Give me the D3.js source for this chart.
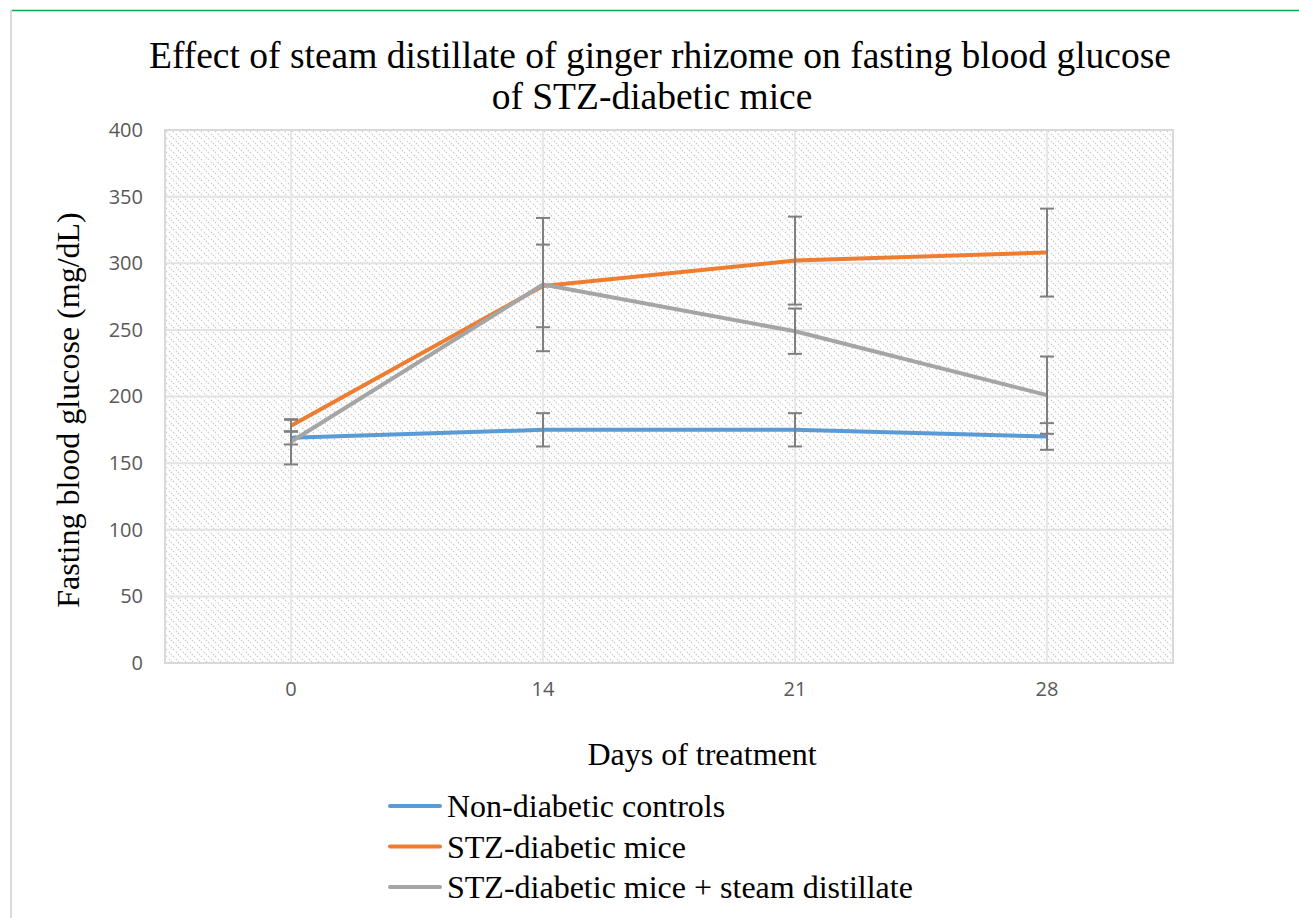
<!DOCTYPE html>
<html>
<head>
<meta charset="utf-8">
<script src="https://cdn.jsdelivr.net/npm/d3@7"></script>
<style>
  body { margin: 0; background: #fff; }
  svg { display: block; }
</style>
</head>
<body>
<svg id="chart" width="1299" height="918"></svg>
<script>
// days on the x axis
const days = ["0", "14", "21", "28"];
const seriesNames = ["Non-diabetic controls", "STZ-diabetic mice", "STZ-diabetic mice + steam distillate"];
const seriesColors = ["#5b9bd5", "#ed7d31", "#a5a5a5"];

// mean fasting glucose (mg/dL) and error bar half-widths
const nonDiabetic = [169, 175, 175, 170];
const nonDiabeticErr = [5, 12.5, 12.5, 10];
const stzDiabetic = [178, 283, 302, 308];
const stzDiabeticErr = [4.5, 31, 33, 33];
const stzSteam = [166, 284, 249, 201];
const stzSteamErr = [17, 50, 17, 29];

const yTicks = [0, 50, 100, 150, 200, 250, 300, 350, 400];

const allSeries = [
  { name: seriesNames[0], color: seriesColors[0], values: nonDiabetic, err: nonDiabeticErr },
  { name: seriesNames[1], color: seriesColors[1], values: stzDiabetic, err: stzDiabeticErr },
  { name: seriesNames[2], color: seriesColors[2], values: stzSteam, err: stzSteamErr }
];

const svg = d3.select("#chart");
const plot = { left: 165, right: 1173, top: 130, bottom: 663 };
const serif = "'Liberation Serif', 'Times New Roman', serif";

// frame bits: green rule on top, grey border on the left
svg.append("line")
  .attr("x1", 11).attr("x2", 1299).attr("y1", 10.5).attr("y2", 10.5)
  .attr("stroke", "#00b050").attr("stroke-width", 1.5);
svg.append("line")
  .attr("x1", 11).attr("x2", 11).attr("y1", 10).attr("y2", 918)
  .attr("stroke", "#d9d9d9").attr("stroke-width", 2);

// hatch fill of the plot area
const defs = svg.append("defs");
const pat = defs.append("pattern")
  .attr("id", "hatch")
  .attr("patternUnits", "userSpaceOnUse")
  .attr("width", 7).attr("height", 7);
pat.append("path")
  .attr("d", "M-1,-1 L8,8 M-1,6 L1,8 M6,-1 L8,1")
  .attr("stroke", "#cccccc")
  .attr("stroke-width", 1.3)
  .attr("stroke-dasharray", "1.4,1.4");

const x = d3.scaleBand()
  .domain(days)
  .range([plot.left, plot.right]);

const y = d3.scaleLinear()
  .domain([0, 400])
  .range([plot.bottom, plot.top]);

const cx = d => x(d) + x.bandwidth() / 2;

svg.append("rect")
  .attr("x", plot.left).attr("y", plot.top)
  .attr("width", plot.right - plot.left).attr("height", plot.bottom - plot.top)
  .attr("fill", "url(#hatch)");

// gridlines
svg.append("g")
  .selectAll("line")
  .data(yTicks)
  .enter()
  .append("line")
  .attr("x1", plot.left).attr("x2", plot.right)
  .attr("y1", d => y(d)).attr("y2", d => y(d))
  .attr("stroke", "#e3e3e3").attr("stroke-width", 2);

svg.append("g")
  .selectAll("line")
  .data(days)
  .enter()
  .append("line")
  .attr("x1", d => cx(d)).attr("x2", d => cx(d))
  .attr("y1", plot.top).attr("y2", plot.bottom)
  .attr("stroke", "#e8e8e8").attr("stroke-width", 2);

// plot border
svg.append("rect")
  .attr("x", plot.left).attr("y", plot.top)
  .attr("width", plot.right - plot.left).attr("height", plot.bottom - plot.top)
  .attr("fill", "none").attr("stroke", "#d9d9d9").attr("stroke-width", 2);

// axes (labels only)
const yAxis = svg.append("g")
  .attr("transform", "translate(" + (plot.left - 22) + ",0)")
  .call(d3.axisLeft(y).tickValues(yTicks).tickSize(0).tickPadding(0));
yAxis.select(".domain").remove();
yAxis.selectAll("text")
  .attr("font-family", "'Open Sans', sans-serif")
  .attr("font-size", 20)
  .attr("fill", "#595959");

const xAxis = svg.append("g")
  .attr("transform", "translate(0," + plot.bottom + ")")
  .call(d3.axisBottom(x).tickSize(0).tickPadding(19));
xAxis.select(".domain").remove();
xAxis.selectAll("text")
  .attr("font-family", "'Open Sans', sans-serif")
  .attr("font-size", 20)
  .attr("fill", "#595959");

// series
const line = d3.line()
  .x((v, i) => cx(days[i]))
  .y(v => y(v));

allSeries.forEach(s => {
  svg.append("path")
    .datum(s.values)
    .attr("fill", "none")
    .attr("stroke", s.color)
    .attr("stroke-width", 4)
    .attr("stroke-linejoin", "round")
    .attr("d", line);

  const eb = svg.append("g").attr("class", "errbars");
  s.values.forEach((v, i) => {
    const px = cx(days[i]);
    const top = y(v + s.err[i]);
    const bot = y(v - s.err[i]);
    eb.append("line")
      .attr("x1", px).attr("x2", px).attr("y1", top).attr("y2", bot)
      .attr("stroke", "#7f7f7f").attr("stroke-width", 2);
    [top, bot].forEach(yy => {
      eb.append("line")
        .attr("x1", px - 7).attr("x2", px + 7).attr("y1", yy).attr("y2", yy)
        .attr("stroke", "#7f7f7f").attr("stroke-width", 2);
    });
  });
});

// titles
const title = svg.append("text")
  .attr("text-anchor", "middle")
  .attr("font-family", serif)
  .attr("font-size", 37.5)
  .attr("fill", "#000");
title.append("tspan").attr("x", 660).attr("y", 68)
  .text("Effect of steam distillate of ginger rhizome on fasting blood glucose");
title.append("tspan").attr("x", 652).attr("y", 109)
  .text("of STZ-diabetic mice");

svg.append("text")
  .attr("transform", "translate(79,410) rotate(-90)")
  .attr("text-anchor", "middle")
  .attr("font-family", serif)
  .attr("font-size", 32)
  .text("Fasting blood glucose (mg/dL)");

svg.append("text")
  .attr("x", 702).attr("y", 765)
  .attr("text-anchor", "middle")
  .attr("font-family", serif)
  .attr("font-size", 32)
  .text("Days of treatment");

// legend
const legend = svg.append("g")
  .selectAll("g")
  .data(allSeries)
  .enter()
  .append("g")
  .attr("transform", (d, i) => "translate(390," + (806 + i * 40.5) + ")");
legend.append("line")
  .attr("x1", 0).attr("x2", 50).attr("y1", 0).attr("y2", 0)
  .attr("stroke", d => d.color).attr("stroke-width", 4)
  .attr("stroke-linecap", "round");
legend.append("text")
  .attr("x", 57).attr("y", 11)
  .attr("font-family", serif)
  .attr("font-size", 32)
  .text(d => d.name);
</script>
</body>
</html>
